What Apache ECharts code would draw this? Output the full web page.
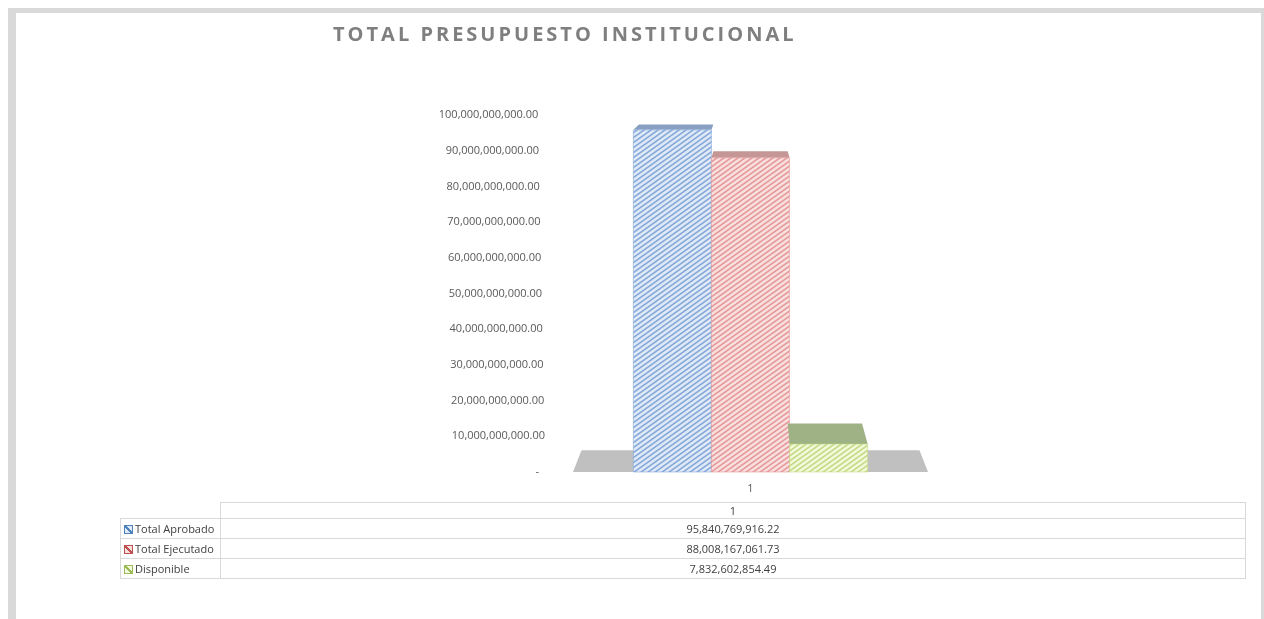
<!DOCTYPE html>
<html>
<head>
<meta charset="utf-8">
<title>Total Presupuesto Institucional</title>
<script src="https://cdn.jsdelivr.net/npm/echarts@6/dist/echarts.min.js"></script>
<style>
	html, body { margin: 0; padding: 0; background: #fff; width: 1264px; height: 619px; overflow: hidden; font-family: "Open Sans", sans-serif; }
	#frame { position: absolute; left: 8px; top: 8px; right: 0; bottom: -20px; border-style: solid; border-color: #d9d9d9; border-width: 5px 3px 0 8px; }
	#main { position: absolute; left: 0; top: 0; width: 1264px; height: 619px; }
	#title { position: absolute; left: 333px; top: 20px; font-weight: bold; font-size: 20px; letter-spacing: 3px; color: #7f7f7f; white-space: nowrap; }
	#datatable { position: absolute; left: 120px; top: 502px; width: 1126px; border-collapse: collapse; font-size: 11px; color: #404040; table-layout: fixed; }
	#datatable td { border: 1px solid #d9d9d9; padding: 0 2px; height: 19px; line-height: 18px; white-space: nowrap; }
	#datatable tr.head td { height: 15px; line-height: 14px; text-align: center; }
	#datatable td.corner { border-top: none; border-left: none; }
	#datatable td.val { text-align: center; }
	.key { display: inline-block; width: 7px; height: 7px; margin: 0 2px 0 1px; vertical-align: -1px; border: 1px solid; }
</style>
</head>
<body>
<div id="frame"></div>
<div id="main"></div>
<div id="title">TOTAL PRESUPUESTO INSTITUCIONAL</div>
<table id="datatable"></table>
<script>
	// datos
	var categories = ['1'];
	var seriesNames = ['Total Aprobado', 'Total Ejecutado', 'Disponible'];
	var totalAprobado = [95840769916.22];
	var totalEjecutado = [88008167061.73];
	var disponible = [7832602854.49];
	var yMin = 0, yMax = 100000000000, yStep = 10000000000;

	var values = [totalAprobado, totalEjecutado, disponible];
	// colores: trama, fondo, cara superior, leyenda
	var stripe = ['#86a9da', '#e59999', '#c4da86'];
	var base = ['#e0eaf7', '#f9e0e0', '#f4f9dc'];
	var topFace = ['#889fc1', '#c49696', '#9fb285'];
	var keyColor = ['#4f81bd', '#c0504d', '#9bbb59'];

	function fmt(n) {
		if (n === 0) return '-';
		var s = n.toFixed(2).split('.');
		return s[0].replace(/\B(?=(\d{3})+(?!\d))/g, ',') + '.' + s[1];
	}

	function hatch(bg, fg) {
		var c = document.createElement('canvas');
		c.width = 7; c.height = 5;
		var ctx = c.getContext('2d');
		ctx.fillStyle = bg;
		ctx.fillRect(0, 0, 7, 5);
		ctx.strokeStyle = fg;
		ctx.lineWidth = 1.6;
		ctx.beginPath();
		for (var k = -1; k <= 1; k++) {
			ctx.moveTo(-7 + k * 7, 10);
			ctx.lineTo(14 + k * 7, -5);
		}
		ctx.stroke();
		return { image: c, repeat: 'repeat' };
	}

	// tabla de datos
	var tbl = document.getElementById('datatable');
	var html = '<colgroup><col style="width:100px"><col></colgroup>';
	html += '<tr class="head"><td class="corner"></td><td>' + categories[0] + '</td></tr>';
	for (var i = 0; i < seriesNames.length; i++) {
		html += '<tr><td><span class="key" style="border-color:' + keyColor[i] + ';background:linear-gradient(45deg,' + base[i] + ' 38%,' + keyColor[i] + ' 38%,' + keyColor[i] + ' 62%,' + base[i] + ' 62%)"></span>' + seriesNames[i] + '</td><td class="val">' + fmt(values[i][0]) + '</td></tr>';
	}
	tbl.innerHTML = html;

	// etiquetas del eje Y escalonadas (perspectiva)
	var rich = {};
	for (var r = 0; r <= 10; r++) {
		rich['t' + r] = { fontSize: 11, color: '#595959', padding: [0, r === 0 ? 6 : (r - 1) * 0.75, 0, 0] };
	}

	var chart = echarts.init(document.getElementById('main'));
	var depth = 0.952; // escala de la cara trasera (perspectiva)

	function renderBar(params, api) {
		var idx = params.seriesIndex;
		var c0 = api.coord([api.value(0), 0]);
		var c1 = api.coord([api.value(0), api.value(1)]);
		var band = api.size([1, 0])[0];
		var eye = api.coord([api.value(0), 127000000000]);
		var vx = c0[0], vy = eye[1];
		var w = band * 0.22;
		var xl = c0[0] - 1.5 * w + idx * w;
		var xr = xl + w;
		function back(x, y) {
			return [vx + (x - vx) * depth, vy + (y - vy) * depth];
		}
		var children = [];
		if (idx === 0) {
			var fl = c0[0] - band / 2, fr = c0[0] + band / 2;
			children.push({
				type: 'polygon',
				shape: { points: [[fl, c0[1]], [fr, c0[1]], back(fr, c0[1]), back(fl, c0[1])] },
				style: { fill: '#c0c0c0' }
			});
		}
		children.push({
			type: 'polygon',
			shape: { points: [[xl, c1[1]], [xr, c1[1]], back(xr, c1[1]), back(xl, c1[1])] },
			style: { fill: topFace[idx] }
		});
		children.push({
			type: 'rect',
			shape: { x: xl, y: c1[1], width: w, height: c0[1] - c1[1] },
			style: { fill: hatch(base[idx], stripe[idx]), stroke: stripe[idx], lineWidth: 0.6 }
		});
		return { type: 'group', children: children };
	}

	var series = [];
	for (var s = 0; s < seriesNames.length; s++) {
		series.push({
			name: seriesNames[s],
			type: 'custom',
			renderItem: renderBar,
			encode: { x: 0, y: 1 },
			data: [[0, values[s][0]]]
		});
	}

	var option = {
		animation: false,
		textStyle: { fontFamily: 'Open Sans' },
		grid: { left: 573, right: 336, top: 115, bottom: 147 },
		xAxis: {
			type: 'category',
			data: categories,
			axisLine: { show: false },
			axisTick: { show: false },
			axisLabel: { margin: 11, fontSize: 11, color: '#595959' }
		},
		yAxis: {
			type: 'value',
			min: yMin,
			max: yMax,
			interval: yStep,
			axisLine: { show: false },
			axisTick: { show: false },
			splitLine: { show: false },
			axisLabel: {
				margin: 28,
				rich: rich,
				formatter: function(v) {
					return '{t' + Math.round(v / yStep) + '|' + fmt(v) + '}';
				}
			}
		},
		series: series
	};
	chart.setOption(option);
</script>
</body>
</html>
